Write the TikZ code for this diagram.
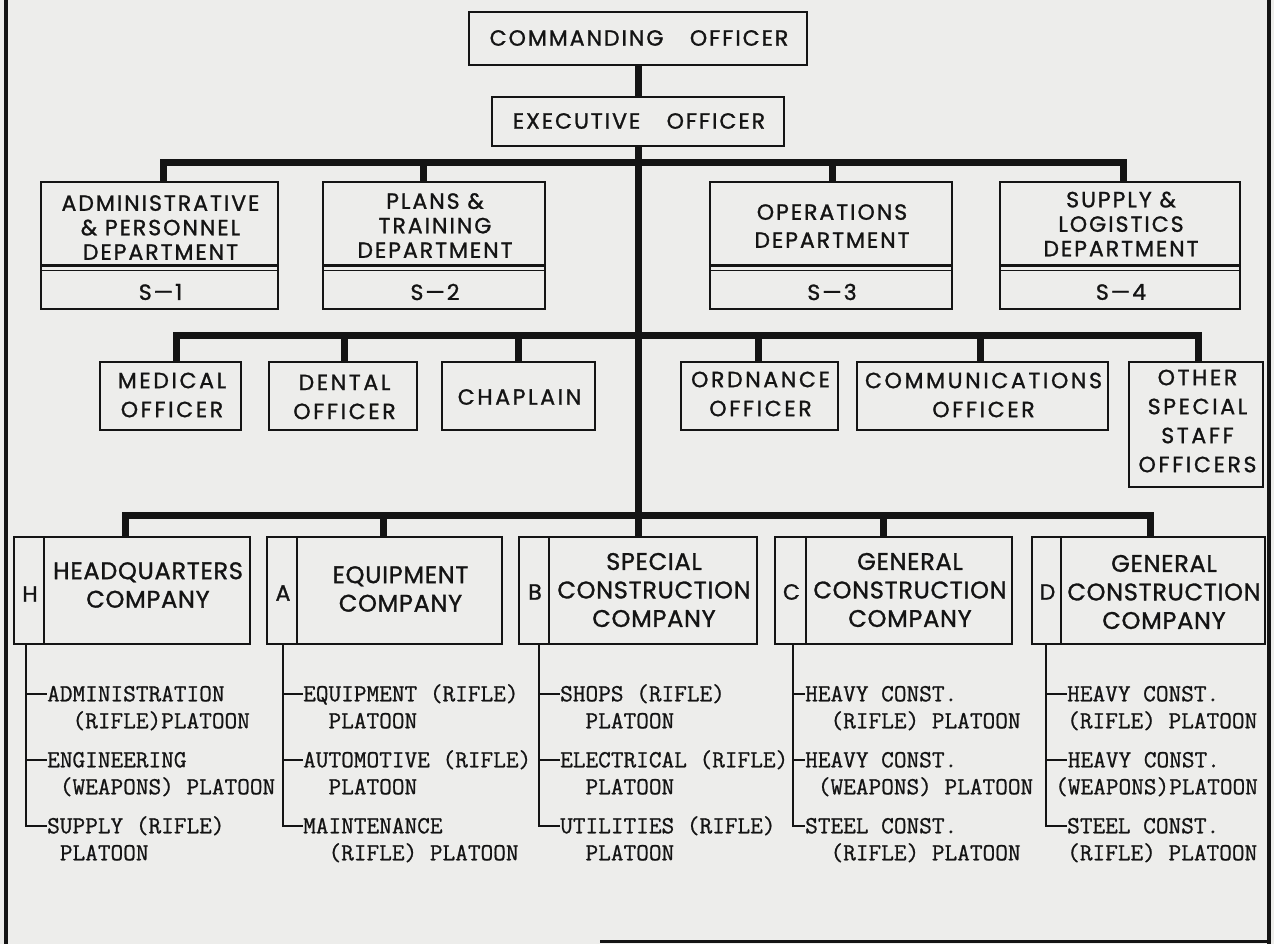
\documentclass[tikz,border=0pt]{standalone}
\usepackage{fontspec}
\setmainfont{Poppins}
\setmonofont{Latin Modern Mono}[FakeBold=0.8]
\newfontfamily\fTop{Poppins}[LetterSpace=9,FakeBold=1.2]
\newfontfamily\fStaff{Poppins}[LetterSpace=12,FakeBold=1.2]
\newfontfamily\fComp{Poppins}[LetterSpace=3,FakeBold=1.2]
\frenchspacing
\definecolor{paper}{RGB}{237,237,235}
\definecolor{ink}{RGB}{20,20,20}
\newcommand{\rbox}[6]{%
  \node[box,#6,minimum width={(#4-#2)*1pt},minimum height={(#5-#3)*1pt}] (#1) at ({(#2+#4)/2},{(#3+#5)/2}) {};}
\begin{document}
\begin{tikzpicture}[x=1pt,y=-1pt,
  every node/.style={text=ink},
  box/.style={draw=ink,line width=2pt,inner sep=0,rectangle},
  edge/.style={draw=ink,line width=2pt},
  conn/.style={draw=ink,line width=7pt,line join=miter},
  tree/.style={draw=ink,line width=2.4pt,line join=miter},
  btext/.style={align=center,inner sep=0,font=\fTop\fontsize{22}{24.5}\selectfont},
  stext/.style={align=center,inner sep=0,font=\fStaff\fontsize{22}{29}\selectfont},
  ctext/.style={align=center,inner sep=0,font=\fComp\fontsize{24}{28.5}\selectfont},
  ltext/.style={inner sep=0,font=\fComp\fontsize{22}{26}\selectfont},
  plt/.style={anchor=north west,inner sep=0,align=left,font=\ttfamily\fontsize{24.6}{27}\selectfont}]
\useasboundingbox (0,0) rectangle (1274,944);
\fill[paper] (0,0) rectangle (1274,944);
% frame
\draw[draw=ink,line width=4pt] (6,0) -- (6,944);
\draw[draw=ink,line width=4pt] (1269,0) -- (1269,944);
\draw[draw=ink,line width=3pt] (600,941) -- (1271,941);

% top
\rbox{co}{469}{12}{807}{65}{}
\node[btext] (co-t) at (639,38) {COMMANDING\hspace{1.2em}OFFICER};
\rbox{xo}{492}{97}{784}{146}{}
\node[btext] (xo-t) at (639,121) {EXECUTIVE\hspace{1.2em}OFFICER};
\draw[conn] (co.south) -- (xo.north);

% departments
\rbox{adm}{41}{182}{278}{309}{}
\rbox{pla}{323}{182}{545}{309}{}
\rbox{ops}{710}{182}{952}{309}{}
\rbox{sup}{1000}{182}{1240}{309}{}
\foreach \n in {adm,pla,ops,sup}{
  \draw[edge,line width=2.2pt] ([yshift=-84.5pt]\n.north west) -- ([yshift=-84.5pt]\n.north east);
  \draw[edge,line width=1.6pt] ([yshift=-89.5pt]\n.north west) -- ([yshift=-89.5pt]\n.north east);
}
\node[btext] (adm-t) at (160.5,227.5) {ADMINISTRATIVE\\\& PERSONNEL\\DEPARTMENT};
\node[btext] (pla-t) at (435,225.5) {PLANS \&\\TRAINING\\DEPARTMENT};
\node[btext,font=\fTop\fontsize{22}{28}\selectfont] (ops-t) at (832,226) {OPERATIONS\\DEPARTMENT};
\node[btext] (sup-t) at (1121,224) {SUPPLY \&\\LOGISTICS\\DEPARTMENT};
\node[btext] (adm-s) at (160.5,292) {S—1};
\node[btext] (pla-s) at (435,292) {S—2};
\node[btext] (ops-s) at (832,292) {S—3};
\node[btext] (sup-s) at (1121,292) {S—4};

\coordinate (b1) at (638,163);
\coordinate (adm-d) at (163,182);
\coordinate (pla-d) at (423,182);
\coordinate (ops-d) at (832,182);
\coordinate (sup-d) at (1123,182);
\draw[conn] (adm-d) |- (b1) -| (sup-d);
\draw[conn] (b1 -| pla-d) -- (pla-d);
\draw[conn] (b1 -| ops-d) -- (ops-d);

% special staff
\rbox{med}{100}{362}{241}{430}{}
\rbox{den}{269}{362}{417}{430}{}
\rbox{cha}{442}{362}{595}{430}{}
\rbox{ord}{681}{362}{838}{430}{}
\rbox{com}{857}{362}{1108}{430}{}
\rbox{oth}{1129}{362}{1263}{487}{}
\node[stext] (med-t) at (172,395) {MEDICAL\\OFFICER};
\node[stext] (den-t) at (344.5,397) {DENTAL\\OFFICER};
\node[stext] (cha-t) at (519.5,397) {CHAPLAIN};
\node[stext] (ord-t) at (760.5,394) {ORDNANCE\\OFFICER};
\node[stext] (com-t) at (983.5,395) {COMMUNICATIONS\\OFFICER};
\node[stext] (oth-t) at (1197.5,421) {OTHER\\SPECIAL\\STAFF\\OFFICERS};

\coordinate (b2) at (638,335);
\coordinate (med-d) at (176,362);
\coordinate (den-d) at (344,362);
\coordinate (cha-d) at (518,362);
\coordinate (ord-d) at (758,362);
\coordinate (com-d) at (980,362);
\coordinate (oth-d) at (1198,362);
\draw[conn] (med-d) |- (b2) -| (oth-d);
\foreach \n in {den,cha,ord,com}{\draw[conn] (b2 -| \n-d) -- (\n-d);}

% companies
\coordinate (b3) at (638,515);
\draw[conn] (xo.south) -- (b3);
\rbox{hq}{14}{537}{250}{644}{}
\rbox{ca}{267}{537}{502}{644}{}
\rbox{cb}{519}{537}{757}{644}{}
\rbox{cc}{775}{537}{1012}{644}{}
\rbox{cd}{1032}{537}{1265}{644}{}
\draw[edge] ([xshift=31pt]hq.north west) -- ([xshift=31pt]hq.south west);
\draw[edge] ([xshift=31pt]ca.north west) -- ([xshift=31pt]ca.south west);
\draw[edge] ([xshift=31pt]cb.north west) -- ([xshift=31pt]cb.south west);
\draw[edge] ([xshift=32pt]cc.north west) -- ([xshift=32pt]cc.south west);
\draw[edge] ([xshift=30pt]cd.north west) -- ([xshift=30pt]cd.south west);
\node[ltext] (hq-l) at (30,594) {H};
\node[ltext] (ca-l) at (283,593) {A};
\node[ltext] (cb-l) at (535,592) {B};
\node[ltext] (cc-l) at (791.5,592) {C};
\node[ltext] (cd-l) at (1047.5,592) {D};
\node[ctext] (hq-t) at (148,585) {HEADQUARTERS\\COMPANY};
\node[ctext] (ca-t) at (400.5,589) {EQUIPMENT\\COMPANY};
\node[ctext] (cb-t) at (654,590) {SPECIAL\\CONSTRUCTION\\COMPANY};
\node[ctext] (cc-t) at (910,590) {GENERAL\\CONSTRUCTION\\COMPANY};
\node[ctext] (cd-t) at (1164,592) {GENERAL\\CONSTRUCTION\\COMPANY};

\coordinate (hq-d) at (125,537);
\coordinate (ca-d) at (383,537);
\coordinate (cb-d) at (638,537);
\coordinate (cc-d) at (883,537);
\coordinate (cd-d) at (1150,537);
\draw[conn] (hq-d) |- (b3) -| (cd-d);
\draw[conn] (b3) -- (cb-d);
\draw[conn] (b3 -| ca-d) -- (ca-d);
\draw[conn] (b3 -| cc-d) -- (cc-d);

% platoons
\node[plt] (hq-p1) at (47,682.2) {\strut ADMINISTRATION\\\strut\phantom{XX}(RIFLE)PLATOON};
\node[plt] (hq-p2) at (47,748.2) {\strut ENGINEERING\\\strut\phantom{X}(WEAPONS) PLATOON};
\node[plt] (hq-p3) at (47,814.2) {\strut SUPPLY (RIFLE)\\\strut\phantom{X}PLATOON};
\node[plt] (ca-p1) at (303,682.2) {\strut EQUIPMENT (RIFLE)\\\strut\phantom{XX}PLATOON};
\node[plt] (ca-p2) at (303,748.2) {\strut AUTOMOTIVE (RIFLE)\\\strut\phantom{XX}PLATOON};
\node[plt] (ca-p3) at (303,814.2) {\strut MAINTENANCE\\\strut\phantom{XX}(RIFLE) PLATOON};
\node[plt] (cb-p1) at (560,682.2) {\strut SHOPS (RIFLE)\\\strut\phantom{XX}PLATOON};
\node[plt] (cb-p2) at (560,748.2) {\strut ELECTRICAL (RIFLE)\\\strut\phantom{XX}PLATOON};
\node[plt] (cb-p3) at (560,814.2) {\strut UTILITIES (RIFLE)\\\strut\phantom{XX}PLATOON};
\node[plt] (cc-p1) at (805,682.2) {\strut HEAVY CONST.\\\strut\phantom{XX}(RIFLE) PLATOON};
\node[plt] (cc-p2) at (805,748.2) {\strut HEAVY CONST.\\\strut\phantom{X}(WEAPONS) PLATOON};
\node[plt] (cc-p3) at (805,814.2) {\strut STEEL CONST.\\\strut\phantom{XX}(RIFLE) PLATOON};
\node[plt] (cd-p1) at (1067,682.2) {\strut HEAVY CONST.\\\strut(RIFLE) PLATOON};
\node[plt] (cd-p2) at (1055,748.2) {\strut\phantom{X}HEAVY CONST.\\\strut(WEAPONS)PLATOON};
\node[plt] (cd-p3) at (1067,814.2) {\strut STEEL CONST.\\\strut(RIFLE) PLATOON};

\foreach \n/\r/\t in {hq/26/47,ca/283/303,cb/539/560,cc/793/805,cd/1046/1067}{
  \coordinate (\n-r) at (\r,644);
  \coordinate (\n-k1) at (\t,694);
  \coordinate (\n-k2) at (\t,760);
  \coordinate (\n-k3) at (\t,826);
  \draw[tree] (\n-r) |- (\n-k3);
  \draw[tree] (\n-r |- \n-k1) -- (\n-k1);
  \draw[tree] (\n-r |- \n-k2) -- (\n-k2);
}
\end{tikzpicture}
\end{document}
